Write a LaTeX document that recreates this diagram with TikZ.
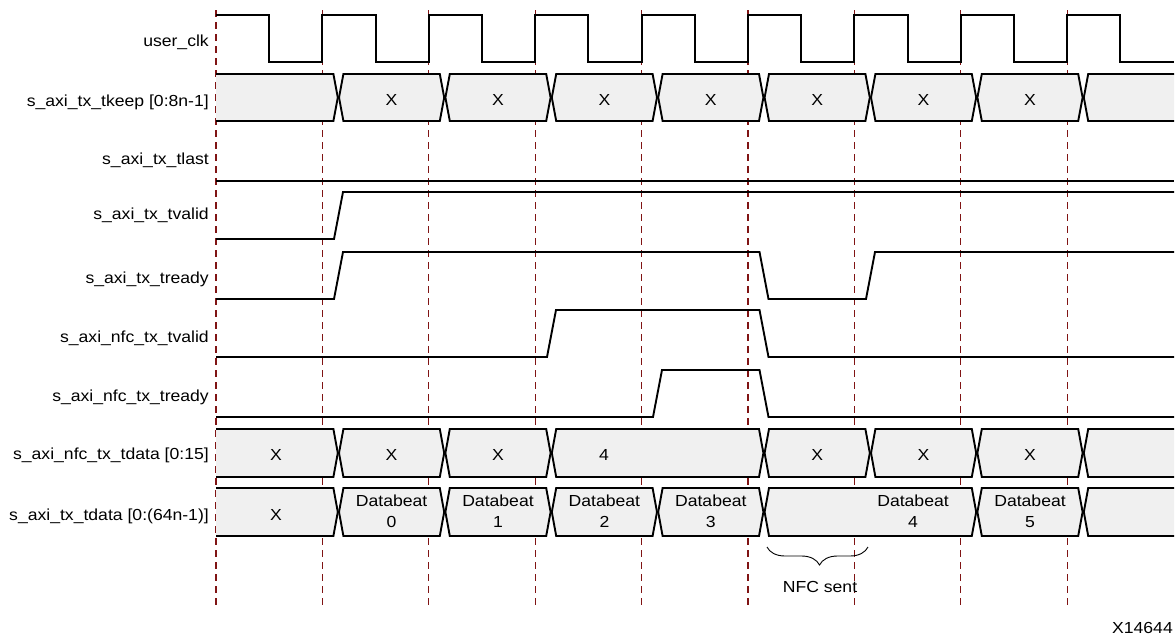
\documentclass[tikz,border=0pt]{standalone}
\usepackage{fontspec}
\setmainfont{Liberation Sans}[FakeStretch=1.1]
\usetikzlibrary{decorations.pathreplacing}
\definecolor{busfill}{RGB}{240,240,240}
\definecolor{dashred}{RGB}{128,20,20}
% bus segment helpers: #1 start x, #2 end x, #3 top y, #4 bottom y
\newcommand{\busmid}[4]{%
  \draw[sig, fill=busfill] ({#1+0.6},{(#3+#4)/2}) -- ({#1+5},#3) -- ({#2-5},#3) -- ({#2-0.6},{(#3+#4)/2}) -- ({#2-5},#4) -- ({#1+5},#4) -- cycle;}
\newcommand{\busfirst}[4]{%
  \path[fill=busfill] (#1,#3) -- ({#2-5},#3) -- ({#2-0.6},{(#3+#4)/2}) -- ({#2-5},#4) -- (#1,#4) -- cycle;
  \draw[sig] (#1,#3) -- ({#2-5},#3) -- ({#2-0.6},{(#3+#4)/2}) -- ({#2-5},#4) -- (#1,#4);}
\newcommand{\buslast}[4]{%
  \path[fill=busfill] (#2,#3) -- ({#1+5},#3) -- ({#1+0.6},{(#3+#4)/2}) -- ({#1+5},#4) -- (#2,#4) -- cycle;
  \draw[sig] (#2,#3) -- ({#1+5},#3) -- ({#1+0.6},{(#3+#4)/2}) -- ({#1+5},#4) -- (#2,#4);}
\begin{document}
\begin{tikzpicture}[x=1pt,y=-1pt, font=\fontsize{16}{21}\selectfont,
  sig/.style={line width=1.9pt, line join=miter, black},
  gridline/.style={dashred, line width=1.3pt, dash pattern=on 7pt off 5pt},
  lbl/.style={anchor=base east, inner sep=0pt},
  val/.style={anchor=base, inner sep=0pt},
  beat/.style={anchor=center, inner sep=0pt, align=center}]
\useasboundingbox (0,0) rectangle (1175,635);

% dashed clock-edge guides
\foreach \k in {0,...,8} {
  \draw[gridline] ({216+106.4*\k},10) -- ({216+106.4*\k},606);
}

% labels
\node[lbl] (lclk)   at (209,46.5) {user\_clk};
\node[lbl] (lkeep)  at (209,106)  {s\_axi\_tx\_tkeep [0:8n-1]};
\node[lbl] (llast)  at (209,164.5){s\_axi\_tx\_tlast};
\node[lbl] (lvalid) at (209,219)  {s\_axi\_tx\_tvalid};
\node[lbl] (lready) at (209,283)  {s\_axi\_tx\_tready};
\node[lbl] (lnval)  at (209,342)  {s\_axi\_nfc\_tx\_tvalid};
\node[lbl] (lnrdy)  at (209,401)  {s\_axi\_nfc\_tx\_tready};
\node[lbl] (lndata) at (209,459.5){s\_axi\_nfc\_tx\_tdata [0:15]};
\node[lbl] (ldata)  at (209,520)  {s\_axi\_tx\_tdata [0:(64n-1)]};

% clock
\draw[sig] (216,15) foreach \k in {0,...,7} {
  -- ({216+106.4*\k+53.2},15) -- ({216+106.4*\k+53.2},62)
  -- ({216+106.4*(\k+1)},62) -- ({216+106.4*(\k+1)},15) }
  -- (1120.4,15) -- (1120.4,62) -- (1174,62);

% tkeep bus
\busfirst{216}{338.4}{74}{121}
\busmid{338.4}{444.8}{74}{121}
\busmid{444.8}{551.2}{74}{121}
\busmid{551.2}{657.6}{74}{121}
\busmid{657.6}{764}{74}{121}
\busmid{764}{870.4}{74}{121}
\busmid{870.4}{976.8}{74}{121}
\busmid{976.8}{1083.2}{74}{121}
\buslast{1083.2}{1174}{74}{121}
\foreach \c [count=\i] in {391.6,498,604.4,710.8,817.2,923.6,1030} {
  \node[val] (k\i) at (\c,105.5) {X};
}

% tlast
\draw[sig] (216,181) -- (1174,181);
% tvalid
\draw[sig] (216,239) -- (334,239) -- (343,192) -- (1174,192);
% tready
\draw[sig] (216,299) -- (334,299) -- (343,252) -- (759.5,252) -- (768.5,299)
  -- (866,299) -- (875,252) -- (1174,252);
% nfc tvalid
\draw[sig] (216,357) -- (547,357) -- (556,310) -- (759.5,310) -- (768.5,357) -- (1174,357);
% nfc tready
\draw[sig] (216,417) -- (653,417) -- (662,370) -- (759.5,370) -- (768.5,417) -- (1174,417);

% nfc tdata bus
\busfirst{216}{338.4}{429}{477}
\busmid{338.4}{444.8}{429}{477}
\busmid{444.8}{551.2}{429}{477}
\busmid{551.2}{764}{429}{477}
\busmid{764}{870.4}{429}{477}
\busmid{870.4}{976.8}{429}{477}
\busmid{976.8}{1083.2}{429}{477}
\buslast{1083.2}{1174}{429}{477}
\node[val] (n0) at (276,460) {X};
\node[val] (n1) at (391.6,460) {X};
\node[val] (n2) at (498,460) {X};
\node[val] (n3) at (604,460) {4};
\node[val] (n4) at (817.2,460) {X};
\node[val] (n5) at (923.6,460) {X};
\node[val] (n6) at (1030,460) {X};

% tdata bus
\busfirst{216}{338.4}{488}{536}
\busmid{338.4}{444.8}{488}{536}
\busmid{444.8}{551.2}{488}{536}
\busmid{551.2}{657.6}{488}{536}
\busmid{657.6}{764}{488}{536}
\busmid{764}{976.8}{488}{536}
\busmid{976.8}{1083.2}{488}{536}
\buslast{1083.2}{1174}{488}{536}
\node[val] (d0) at (276,520) {X};
\node[beat] (db0) at (391.6,511) {Databeat\\0};
\node[beat] (db1) at (498,511) {Databeat\\1};
\node[beat] (db2) at (604.4,511) {Databeat\\2};
\node[beat] (db3) at (710.8,511) {Databeat\\3};
\node[beat] (db4) at (913,511) {Databeat\\4};
\node[beat] (db5) at (1030,511) {Databeat\\5};

% brace
\coordinate (bl) at (767,547);
\coordinate (br) at (868,547);
\draw[line width=0.9pt, decorate, decoration={brace, amplitude=18pt, aspect=0.52, mirror}] (bl) -- (br);
\node[val] (nfc) at (820,592) {NFC sent};

\node[anchor=base east, inner sep=0pt] (fig) at (1173,633) {X14644};
\end{tikzpicture}
\end{document}
